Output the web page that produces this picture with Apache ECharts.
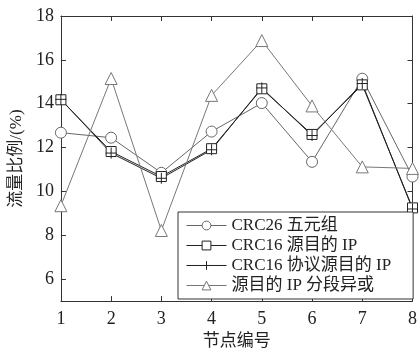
<!DOCTYPE html>
<html><head><meta charset="utf-8">
<script src="https://cdn.jsdelivr.net/npm/echarts@6/dist/echarts.min.js"></script>
<style>html,body{margin:0;padding:0;background:#fff}#c{width:420px;height:355px}</style>
</head><body><div id="c"></div>
<script>
const categories = ['1','2','3','4','5','6','7','8'];
const yTicks = [6,8,10,12,14,16,18];
const seriesNames = ['CRC26 五元组','CRC16 源目的 IP','CRC16 协议源目的 IP','源目的 IP 分段异或'];
const crc26 = [12.68,12.45,10.85,12.73,14.03,11.35,15.14,10.68];
const crc16 = [14.18,11.82,10.68,11.95,14.68,12.6,14.86,9.25];
const crc16p = [14.2,11.75,10.6,11.9,14.72,12.55,14.92,9.2];
const segXor = [9.35,15.15,8.22,14.38,16.88,13.9,11.12,11.05];

const serif = '"Liberation Serif","Noto Sans CJK SC",serif';
const chart = echarts.init(document.getElementById('c'));
const axisLine = {show:true, lineStyle:{color:'#333', width:1}};
const mk = (name, data, symbol, size, color) => ({
  name, type:'line', data, symbol, symbolSize:size, showSymbol:true,
  lineStyle:{color, width:1}, itemStyle:{color:'#fff', borderColor:color, borderWidth:1},
  emphasis:{disabled:true}, animation:false, z: 3
});
chart.setOption({
  animation:false,
  grid:{left:58, right:4, top:16, bottom:52},
  legend:{
    orient:'vertical', left:178, top:212, itemWidth:40, itemHeight:11, itemGap:3,
    padding:[5,22,5,8], backgroundColor:'#fff', borderColor:'#333', borderWidth:1,
    lineStyle:{width:1}, itemStyle:{borderWidth:1},
    textStyle:{fontFamily:serif, fontSize:17, color:'#222'},
    data: seriesNames
  },
  xAxis:[{
    type:'category', data:categories, boundaryGap:false,
    axisLine, axisTick:{show:true, inside:true, length:5, lineStyle:{color:'#333'}},
    axisLabel:{fontFamily:serif, fontSize:18, color:'#222', margin:9},
    splitLine:{show:false},
    name:'节点编号', nameLocation:'middle', nameGap:30,
    nameTextStyle:{fontFamily:serif, fontSize:17, color:'#222'}
  },{
    type:'category', data:categories, boundaryGap:false, position:'top',
    axisLine, axisTick:{show:true, inside:true, length:5, lineStyle:{color:'#333'}},
    axisLabel:{show:false}, splitLine:{show:false}
  }],
  yAxis:[{
    type:'value', min:5, max:18,
    axisLine, axisTick:{show:true, inside:true, length:5, customValues:yTicks, lineStyle:{color:'#333'}},
    axisLabel:{fontFamily:serif, fontSize:18, color:'#222', margin:7, customValues:yTicks},
    splitLine:{show:false},
    name:'流量比例/(%)', nameLocation:'middle', nameGap:34, nameRotate:90,
    nameTextStyle:{fontFamily:serif, fontSize:17, color:'#222'}
  },{
    type:'value', min:5, max:18, position:'right',
    axisLine, axisTick:{show:true, inside:true, length:5, customValues:yTicks, lineStyle:{color:'#333'}},
    axisLabel:{show:false}, splitLine:{show:false}
  }],
  series:[
    mk(seriesNames[0], crc26, 'circle', 11, '#666'),
    mk(seriesNames[1], crc16, 'rect', 10, '#222'),
    mk(seriesNames[2], crc16p, 'path://M5,0L5,10M0,5L10,5', 11, '#222'),
    mk(seriesNames[3], segXor, 'triangle', 12, '#777')
  ]
});
</script></body></html>
